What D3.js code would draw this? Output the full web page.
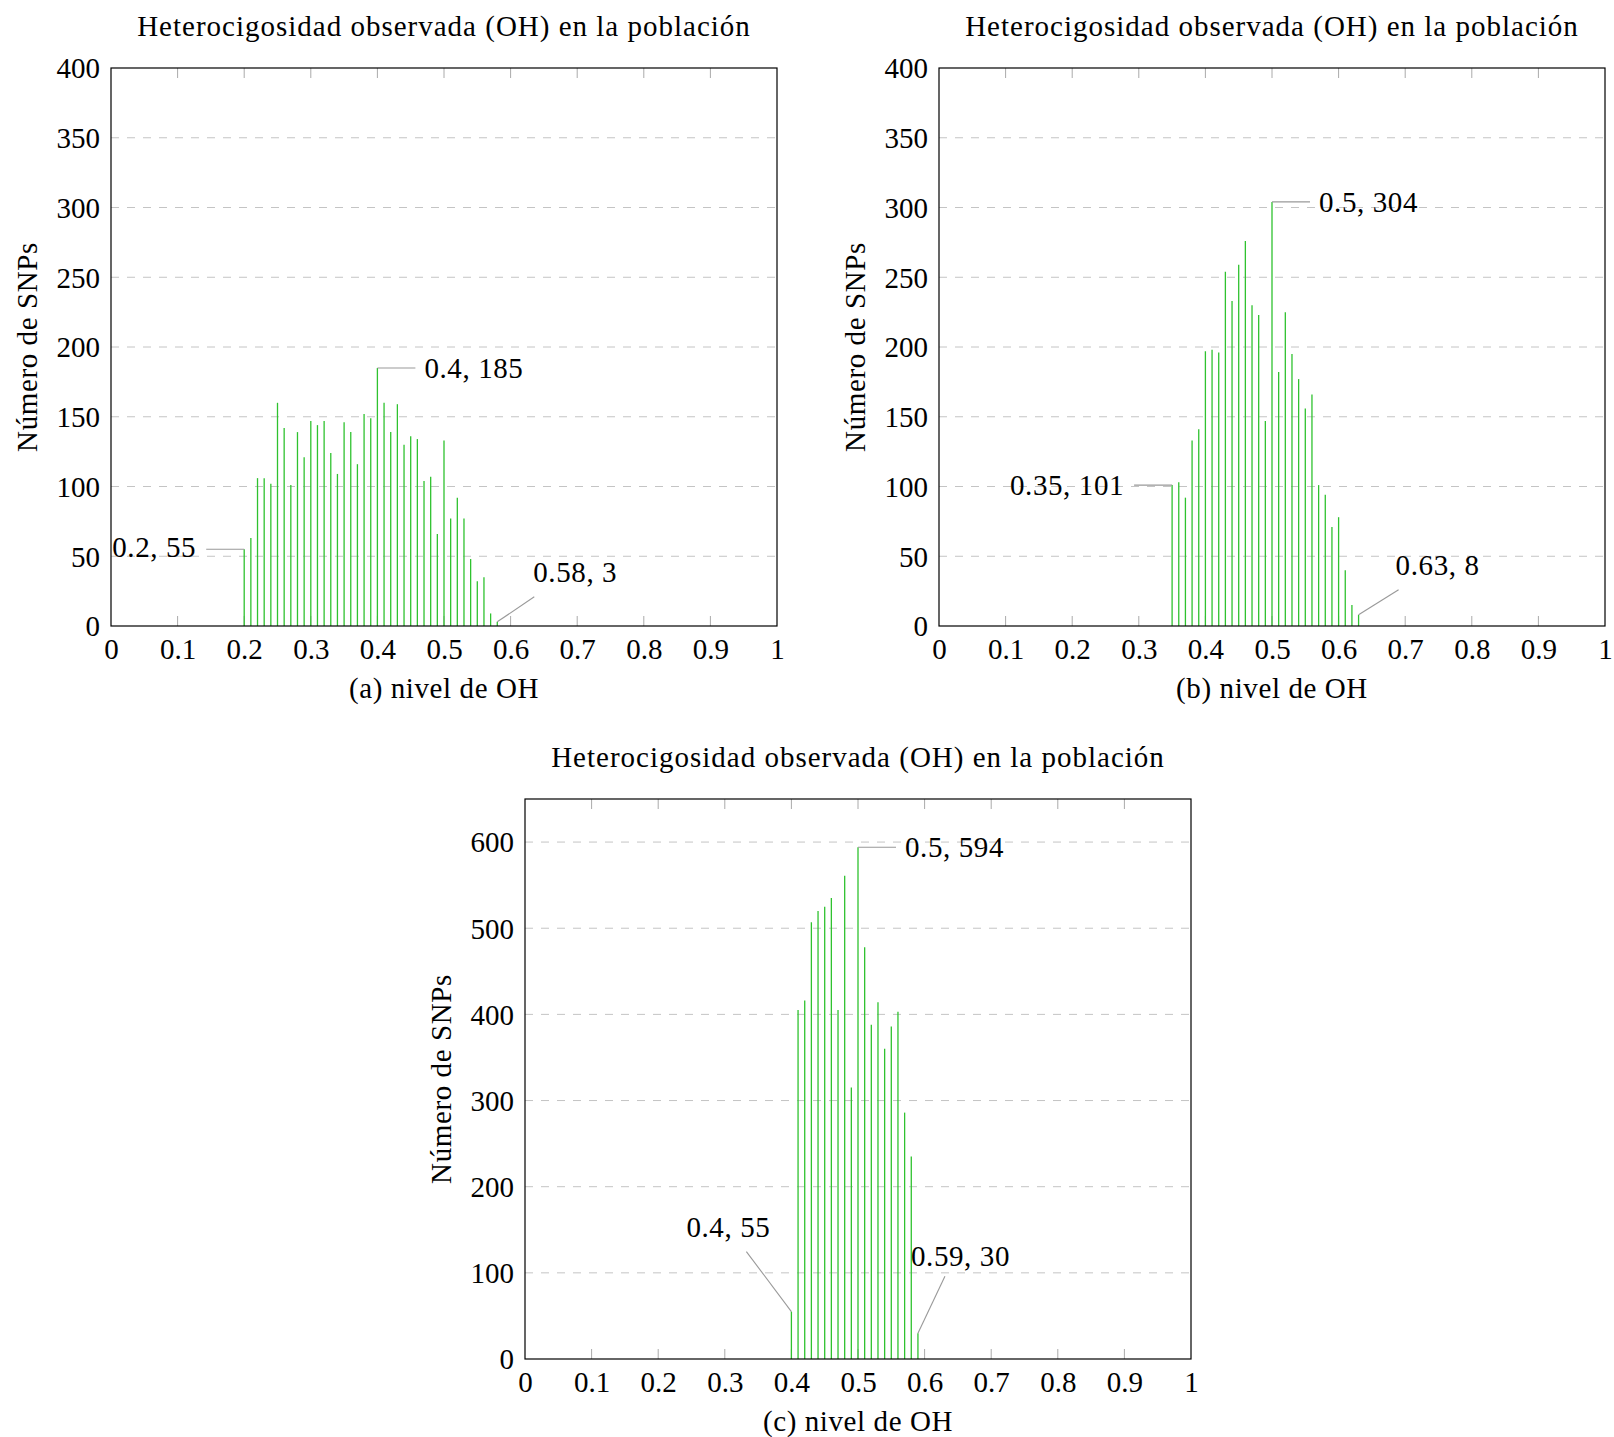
<!DOCTYPE html>
<html>
<head>
<meta charset="utf-8">
<script src="https://cdn.jsdelivr.net/npm/d3@7"></script>
<style>
  body { margin: 0; background: #fff; }
  svg text { font-family: "Liberation Serif", serif; fill: #000; }
</style>
</head>
<body>
<div id="chart"></div>
<script>
// ---------- data ----------
var title = "Heterocigosidad observada (OH) en la población";
var yLabel = "Número de SNPs";

// (a)
var levelsA = [0.20,0.21,0.22,0.23,0.24,0.25,0.26,0.27,0.28,0.29,
               0.30,0.31,0.32,0.33,0.34,0.35,0.36,0.37,0.38,0.39,
               0.40,0.41,0.42,0.43,0.44,0.45,0.46,0.47,0.48,0.49,
               0.50,0.51,0.52,0.53,0.54,0.55,0.56,0.57,0.58];
var countsA = [55,63,106,106,102,160,142,101,139,121,
               147,144,147,124,109,146,139,116,152,149,
               185,160,139,159,130,136,134,104,107,66,
               133,77,92,77,48,32,35,9,3];

// (b)
var levelsB = [0.35,0.36,0.37,0.38,0.39,
               0.40,0.41,0.42,0.43,0.44,0.45,0.46,0.47,0.48,0.49,
               0.50,0.51,0.52,0.53,0.54,0.55,0.56,0.57,0.58,0.59,
               0.60,0.61,0.62,0.63];
var countsB = [101,103,92,133,141,
               197,198,196,254,233,259,276,230,223,147,
               304,182,225,195,177,156,166,101,94,71,
               78,40,15,8];

// (c)
var levelsC = [0.40,0.41,0.42,0.43,0.44,0.45,0.46,0.47,0.48,0.49,
               0.50,0.51,0.52,0.53,0.54,0.55,0.56,0.57,0.58,0.59];
var countsC = [55,405,416,507,520,525,535,405,561,315,
               594,478,388,414,360,386,403,286,235,30];

var xTicks = [0,0.1,0.2,0.3,0.4,0.5,0.6,0.7,0.8,0.9,1];
var yTicksAB = [0,50,100,150,200,250,300,350,400];
var yTicksC = [0,100,200,300,400,500,600];

// ---------- layout ----------
var W = 1614, H = 1437;
var PW = 666, PH = 558;
var FONT = 29;
var GREEN = "#2fc22f";

var svg = d3.select("#chart").append("svg")
    .attr("width", W)
    .attr("height", H);

function drawPanel(opt) {
    var g = svg.append("g")
        .attr("transform", "translate(" + opt.left + "," + opt.top + ")");
    var ph = opt.height;

    var x = d3.scaleLinear().domain([0, 1]).range([0, PW]);
    var y = d3.scaleLinear().domain([0, opt.ymax]).range([ph, 0]);

    // dashed grid
    g.append("g").selectAll("line")
        .data(opt.yTicks.filter(function(d) { return d > 0 && d < opt.ymax; }))
        .enter().append("line")
        .attr("x1", 0).attr("x2", PW)
        .attr("y1", function(d) { return y(d); })
        .attr("y2", function(d) { return y(d); })
        .attr("stroke", "#c4c4c4")
        .attr("stroke-width", 1)
        .attr("stroke-dasharray", "8,8");

    // x tick marks inside, top and bottom
    var inner = xTicks.filter(function(d) { return d > 0 && d < 1; });
    g.append("g").selectAll("line.b")
        .data(inner).enter().append("line")
        .attr("x1", function(d) { return x(d); })
        .attr("x2", function(d) { return x(d); })
        .attr("y1", ph).attr("y2", ph - 10)
        .attr("stroke", "#aaa").attr("stroke-width", 1);
    g.append("g").selectAll("line.t")
        .data(inner).enter().append("line")
        .attr("x1", function(d) { return x(d); })
        .attr("x2", function(d) { return x(d); })
        .attr("y1", 0).attr("y2", 10)
        .attr("stroke", "#aaa").attr("stroke-width", 1);

    // bars (comb)
    var data = opt.levels.map(function(l, i) { return {x: l, y: opt.counts[i]}; });
    g.append("g").selectAll("line")
        .data(data).enter().append("line")
        .attr("x1", function(d) { return x(d.x); })
        .attr("x2", function(d) { return x(d.x); })
        .attr("y1", y(0))
        .attr("y2", function(d) { return y(d.y); })
        .attr("stroke", GREEN)
        .attr("stroke-width", 1.3);

    // frame
    g.append("rect")
        .attr("x", 0).attr("y", 0)
        .attr("width", PW).attr("height", ph)
        .attr("fill", "none")
        .attr("stroke", "#000")
        .attr("stroke-width", 1.2);

    // axes labels
    var xAxis = g.append("g").attr("transform", "translate(0," + ph + ")")
        .call(d3.axisBottom(x).tickValues(xTicks).tickSize(0).tickPadding(0)
              .tickFormat(function(d) { return d3.format("~g")(d); }));
    xAxis.select(".domain").remove();
    xAxis.selectAll("text")
        .attr("dy", null).attr("y", 33)
        .attr("font-size", FONT)
        .attr("font-family", "Liberation Serif, serif")
        .attr("fill", "#000");

    var yAxis = g.append("g")
        .call(d3.axisLeft(y).tickValues(opt.yTicks).tickSize(0).tickPadding(11));
    yAxis.select(".domain").remove();
    yAxis.selectAll("text")
        .attr("dy", "0.34em")
        .attr("font-size", FONT)
        .attr("font-family", "Liberation Serif, serif")
        .attr("fill", "#000");

    // title
    g.append("text")
        .attr("x", PW / 2).attr("y", -32)
        .attr("text-anchor", "middle")
        .attr("font-size", FONT)
        .attr("letter-spacing", "1px")
        .text(title);

    // x label
    g.append("text")
        .attr("x", PW / 2).attr("y", ph + 72)
        .attr("text-anchor", "middle")
        .attr("font-size", FONT)
        .attr("letter-spacing", "0.6px")
        .text(opt.xLabel);

    // y label
    g.append("text")
        .attr("transform", "translate(" + (-84) + "," + (ph / 2) + ") rotate(-90)")
        .attr("text-anchor", "middle")
        .attr("dy", "0.34em")
        .attr("font-size", FONT)
        .attr("letter-spacing", "0.6px")
        .text(yLabel);

    // pins
    opt.pins.forEach(function(p) {
        var i = opt.levels.indexOf(p.at);
        var px = x(p.at), py = y(opt.counts[i]);
        g.append("line")
            .attr("x1", px).attr("y1", py)
            .attr("x2", px + p.lx).attr("y2", py + p.ly)
            .attr("stroke", "#999").attr("stroke-width", 1.1);
        g.append("text")
            .attr("x", px + p.tx).attr("y", py + p.ty)
            .attr("dy", "0.34em")
            .attr("text-anchor", p.anchor)
            .attr("font-size", FONT)
            .attr("letter-spacing", "0.6px")
            .text(d3.format("~g")(p.at) + ", " + opt.counts[i]);
    });
}

drawPanel({
    left: 111, top: 68, height: PH, ymax: 400, yTicks: yTicksAB,
    levels: levelsA, counts: countsA, xLabel: "(a) nivel de OH",
    pins: [
        {at: 0.20, lx: -38, ly: 0, tx: -48, ty: -2, anchor: "end"},
        {at: 0.40, lx: 38, ly: 0, tx: 47, ty: 0, anchor: "start"},
        {at: 0.58, lx: 37, ly: -25, tx: 36, ty: -50, anchor: "start"}
    ]
});

drawPanel({
    left: 939, top: 68, height: PH, ymax: 400, yTicks: yTicksAB,
    levels: levelsB, counts: countsB, xLabel: "(b) nivel de OH",
    pins: [
        {at: 0.35, lx: -38, ly: 0, tx: -48, ty: 0, anchor: "end"},
        {at: 0.50, lx: 38, ly: 0, tx: 47, ty: 0, anchor: "start"},
        {at: 0.63, lx: 40, ly: -25, tx: 37, ty: -50, anchor: "start"}
    ]
});

drawPanel({
    left: 525, top: 799, height: 560, ymax: 650, yTicks: yTicksC,
    levels: levelsC, counts: countsC, xLabel: "(c) nivel de OH",
    pins: [
        {at: 0.40, lx: -45, ly: -60, tx: -63, ty: -84, anchor: "middle"},
        {at: 0.50, lx: 38, ly: 0, tx: 47, ty: 0, anchor: "start"},
        {at: 0.59, lx: 27, ly: -57, tx: -7, ty: -77, anchor: "start"}
    ]
});
</script>
</body>
</html>
